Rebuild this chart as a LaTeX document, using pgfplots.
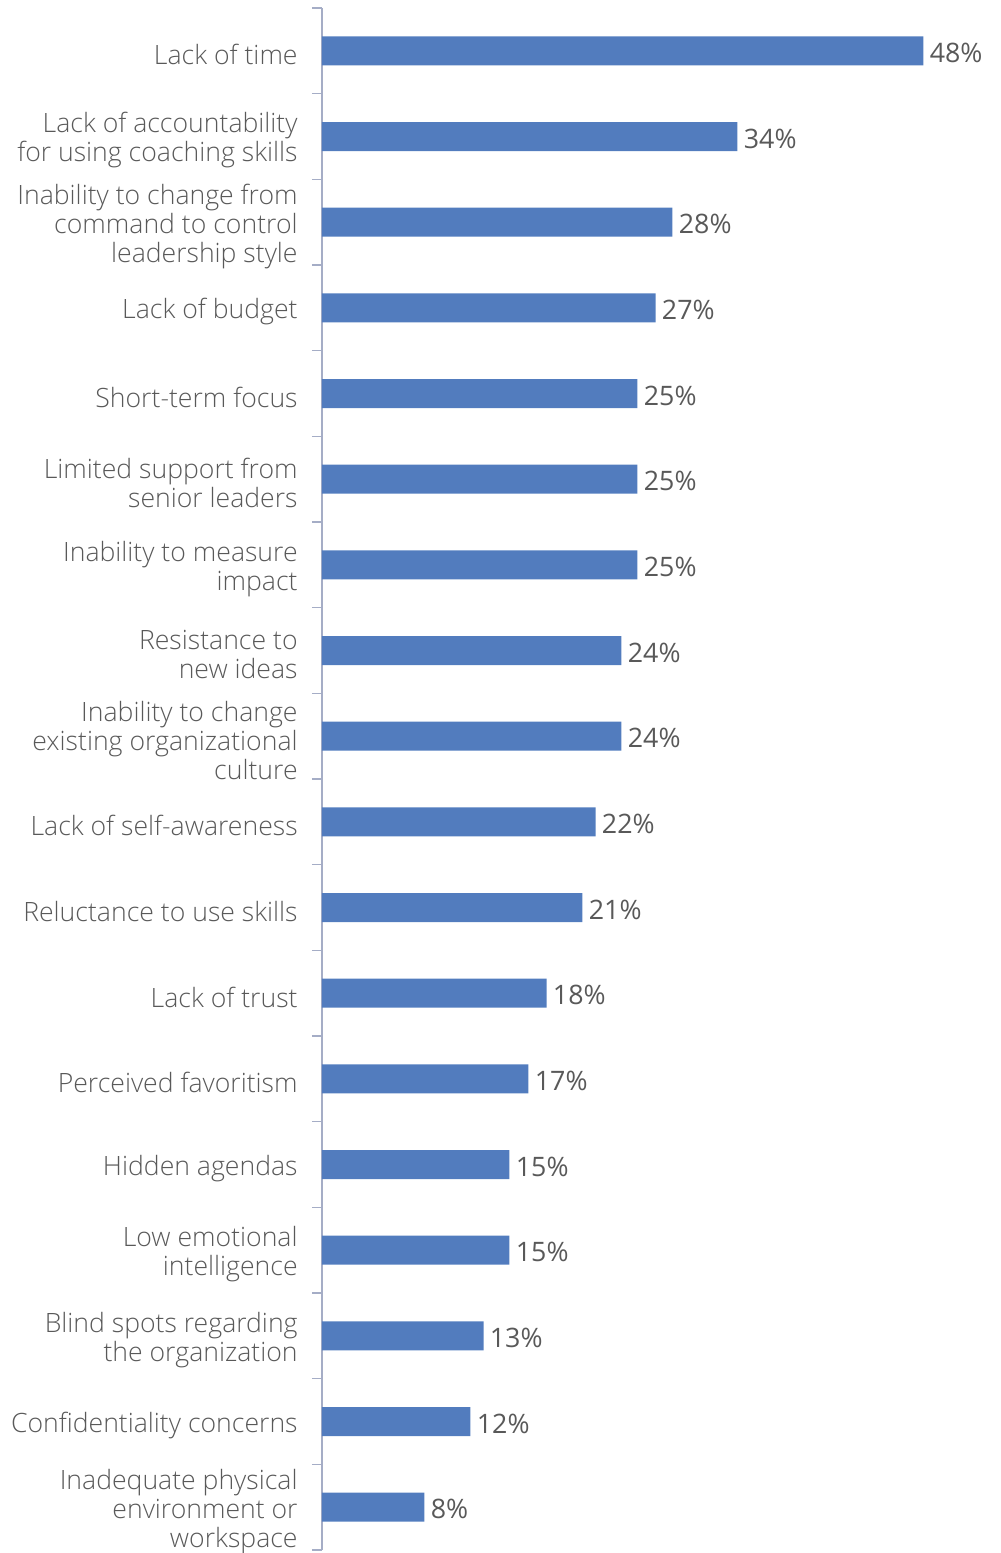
\documentclass[border=0pt]{standalone}
\usepackage{pgfplots}
\pgfplotsset{compat=1.18}
\usepackage{fontspec}
\setmainfont{Open Sans}
\newfontfamily\lightfont{Open Sans Light}
\definecolor{barblue}{RGB}{82,124,190}
\definecolor{txtgray}{RGB}{89,89,89}
\definecolor{axisgray}{RGB}{165,173,198}
\begin{document}
\begin{tikzpicture}
\path[use as bounding box] (-161pt,-1.5pt) rectangle (339.5pt,775pt);
\begin{axis}[
  at={(0,0)}, anchor=south west,
  scale only axis, width=338.3pt, height=771pt,
  xbar, bar width=14.5pt,
  xmin=0, xmax=54, ymin=-0.5, ymax=17.5, y dir=reverse,
  axis x line=none, axis y line*=left,
  axis line style={axisgray, line width=0.7pt, -},
  ytick={0,...,17},
  yticklabels={
    {Lack of time},
    {Lack of accountability\\for using coaching skills},
    {Inability to change from\\command to control\\leadership style},
    {Lack of budget},
    {Short-term focus},
    {Limited support from\\senior leaders},
    {Inability to measure\\impact},
    {Resistance to\\new ideas},
    {Inability to change\\existing organizational\\culture},
    {Lack of self-awareness},
    {Reluctance to use skills},
    {Lack of trust},
    {Perceived favoritism},
    {Hidden agendas},
    {Low emotional\\intelligence},
    {Blind spots regarding\\the organization},
    {Confidentiality concerns},
    {Inadequate physical\\environment or\\workspace}},
  major tick length=0pt, minor tick length=5pt,
  minor ytick={-0.5,0.5,...,17.5},
  tick align=outside,
  tick style={axisgray, line width=0.7pt},
  yticklabel style={align=right, inner sep=0pt, xshift=-12pt, yshift=-2pt,
    font=\lightfont\fontsize{13.3}{14.5}\selectfont, text=txtgray},
  point meta=explicit symbolic,
  nodes near coords={\pgfplotspointmeta\%},
  nodes near coords style={anchor=west, inner sep=0pt, xshift=3pt, yshift=-1pt,
    font=\fontsize{13.4}{15}\selectfont, text=txtgray},
]
\addplot[fill=barblue, draw=none] coordinates {
  (48.0,0) [48]
  (33.16,1) [34]
  (27.97,2) [28]
  (26.62,3) [27]
  (25.18,4) [25]
  (25.18,5) [25]
  (25.18,6) [25]
  (23.90,7) [24]
  (23.90,8) [24]
  (21.83,9) [22]
  (20.79,10) [21]
  (17.92,11) [18]
  (16.48,12) [17]
  (14.96,13) [15]
  (14.96,14) [15]
  (12.89,15) [13]
  (11.85,16) [12]
  (8.18,17) [8]
};
\end{axis}
\end{tikzpicture}
\end{document}
